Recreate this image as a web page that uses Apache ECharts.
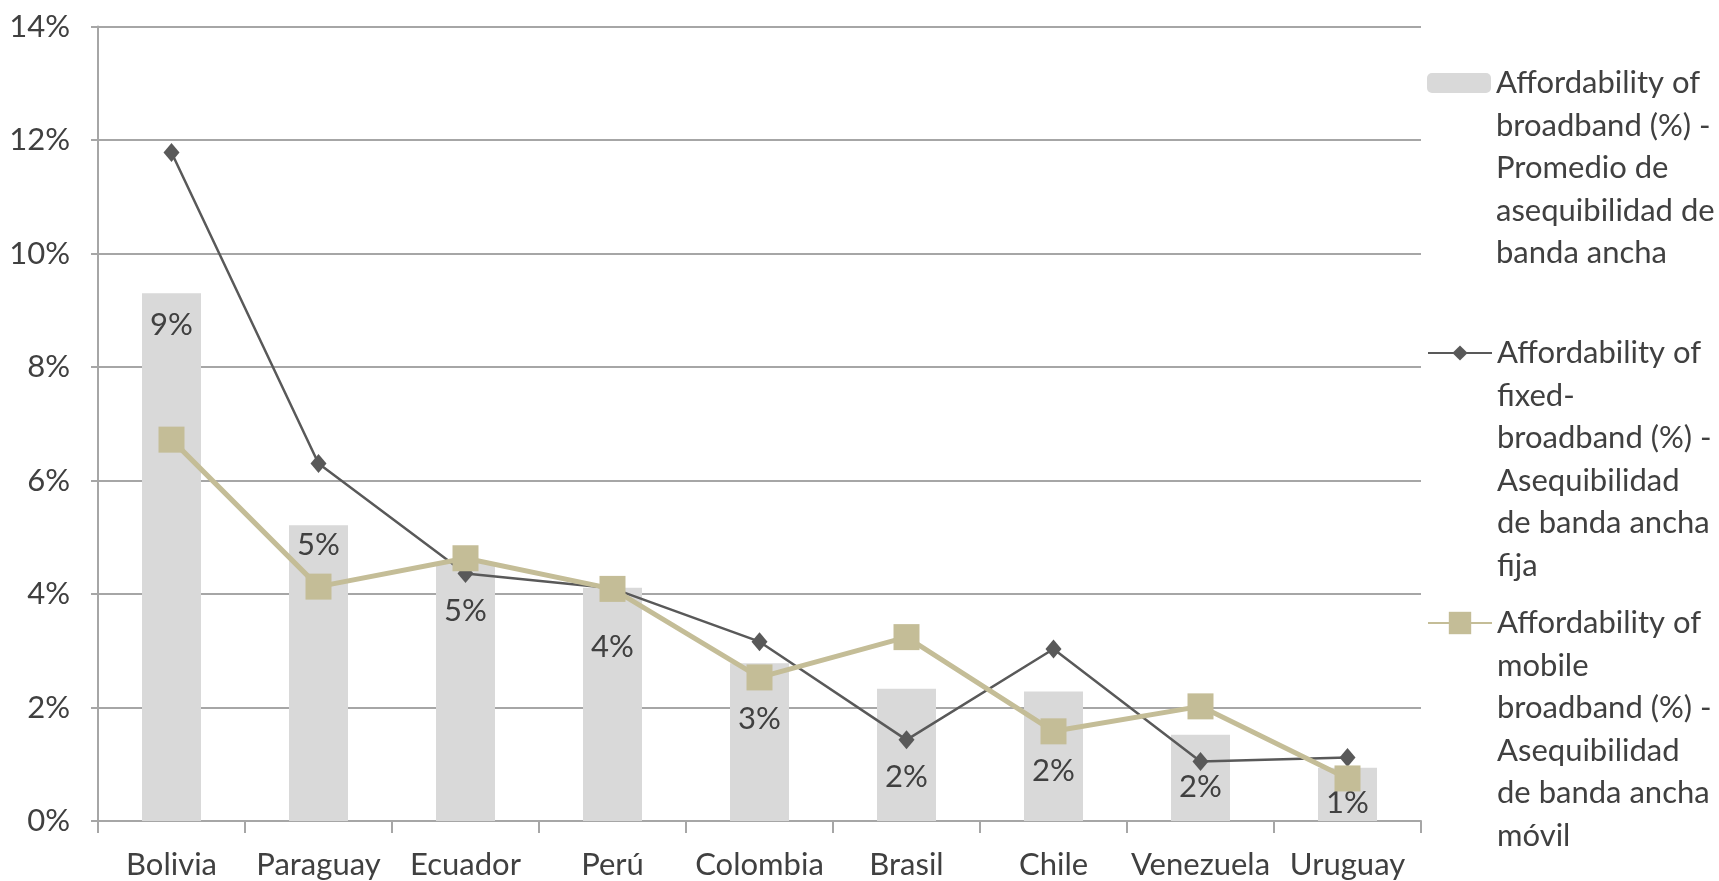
<!DOCTYPE html>
<html>
<head>
<meta charset="utf-8">
<script src="https://cdn.jsdelivr.net/npm/echarts@6/dist/echarts.min.js"></script>
<style>
  html, body { margin: 0; padding: 0; background: #ffffff; }
  #chart { width: 1719px; height: 881px; }
</style>
</head>
<body>
<div id="chart"></div>
<script>
// Countries along the x axis
const categories = ['Bolivia', 'Paraguay', 'Ecuador', 'Perú', 'Colombia', 'Brasil', 'Chile', 'Venezuela', 'Uruguay'];

// Average broadband affordability (%), drawn as bars
const broadbandAvg = [9.3, 5.21, 4.55, 4.11, 2.78, 2.33, 2.28, 1.52, 0.94];

// Fixed-broadband affordability (%), dark line with diamonds
const fixedBroadband = [11.78, 6.3, 4.36, 4.1, 3.16, 1.43, 3.03, 1.05, 1.12];

// Mobile-broadband affordability (%), tan line with squares
const mobileBroadband = [6.72, 4.13, 4.63, 4.09, 2.53, 3.24, 1.58, 2.02, 0.75];

// Value-axis range and step (%)
const yMin = 0, yMax = 14, yStep = 2;

// Series names, wrapped the way the legend shows them
const nameBars = 'Affordability of\nbroadband (%) -\nPromedio de\nasequibilidad de\nbanda ancha';
const nameFixed = 'Affordability of\nfixed-\nbroadband (%) -\nAsequibilidad\nde banda ancha\nfija';
const nameMobile = 'Affordability of\nmobile\nbroadband (%) -\nAsequibilidad\nde banda ancha\nmóvil';

// Vertical drop (px) of each bar's value label below the bar top
const labelDrop = [32, 20, 48, 59, 56, 88, 79, 52, 35];

const FONT = 'Lato';
const TEXT = '#404040';
const FS = 31;
const LH = 42.5;

function lineCount(s) { return s.split('\n').length; }
// Legend item whose icon sits on the first text line: blank lines are
// put in front so the middle of the text block is the first real line.
function legendFor(name, iconCenterY, w, h) {
  const n = lineCount(name);
  const block = (2 * n - 1) * LH;
  return {
    data: [name],
    orient: 'vertical',
    left: 1427,
    top: iconCenterY - block / 2,
    padding: 0,
    itemWidth: w,
    itemHeight: h,
    selectedMode: false,
    formatter: s => ' \n'.repeat(lineCount(s) - 1) + s,
    textStyle: { fontFamily: FONT, fontSize: FS, color: TEXT, lineHeight: LH }
  };
}

const chart = echarts.init(document.getElementById('chart'), null, { renderer: 'canvas' });

chart.setOption({
  backgroundColor: '#ffffff',
  animation: false,
  textStyle: { fontFamily: FONT },
  grid: { left: 98, right: 298, top: 26.5, bottom: 60, containLabel: false },
  legend: [
    legendFor(nameBars, 83, 64, 20),
    legendFor(nameFixed, 353, 64, 19),
    legendFor(nameMobile, 623, 64, 28)
  ],
  xAxis: {
    type: 'category',
    data: categories,
    boundaryGap: true,
    axisLine: { show: true, lineStyle: { color: '#a6a6a6', width: 2 } },
    axisTick: { show: true, length: 12, lineStyle: { color: '#a6a6a6', width: 2 } },
    axisLabel: { fontFamily: FONT, fontSize: FS, color: TEXT, margin: 28, interval: 0 }
  },
  yAxis: {
    type: 'value',
    min: yMin, max: yMax, interval: yStep,
    axisLine: { show: true, lineStyle: { color: '#a6a6a6', width: 2 } },
    axisTick: { show: true, length: 7, lineStyle: { color: '#a6a6a6', width: 2 } },
    splitLine: { show: true, lineStyle: { color: '#a6a6a6', width: 2 } },
    axisLabel: { fontFamily: FONT, fontSize: FS, color: TEXT, margin: 28, formatter: '{value}%' }
  },
  series: [
    {
      name: nameBars,
      type: 'bar',
      barWidth: 59,
      itemStyle: { color: '#d9d9d9' },
      data: broadbandAvg.map((v, i) => ({
        value: v,
        label: { position: ['50%', labelDrop[i]] }
      })),
      label: {
        show: true,
        align: 'center',
        verticalAlign: 'middle',
        fontFamily: FONT, fontSize: FS, color: TEXT,
        formatter: p => Math.round(p.value) + '%'
      },
      z: 1
    },
    {
      name: nameFixed,
      type: 'line',
      data: fixedBroadband,
      symbol: 'diamond',
      symbolSize: [16, 19],
      lineStyle: { color: '#595959', width: 2.5 },
      itemStyle: { color: '#595959' },
      z: 3
    },
    {
      name: nameMobile,
      type: 'line',
      data: mobileBroadband,
      symbol: 'rect',
      symbolSize: 26,
      lineStyle: { color: '#c4bd97', width: 5 },
      itemStyle: { color: '#c4bd97' },
      z: 4
    }
  ]
});
</script>
</body>
</html>
